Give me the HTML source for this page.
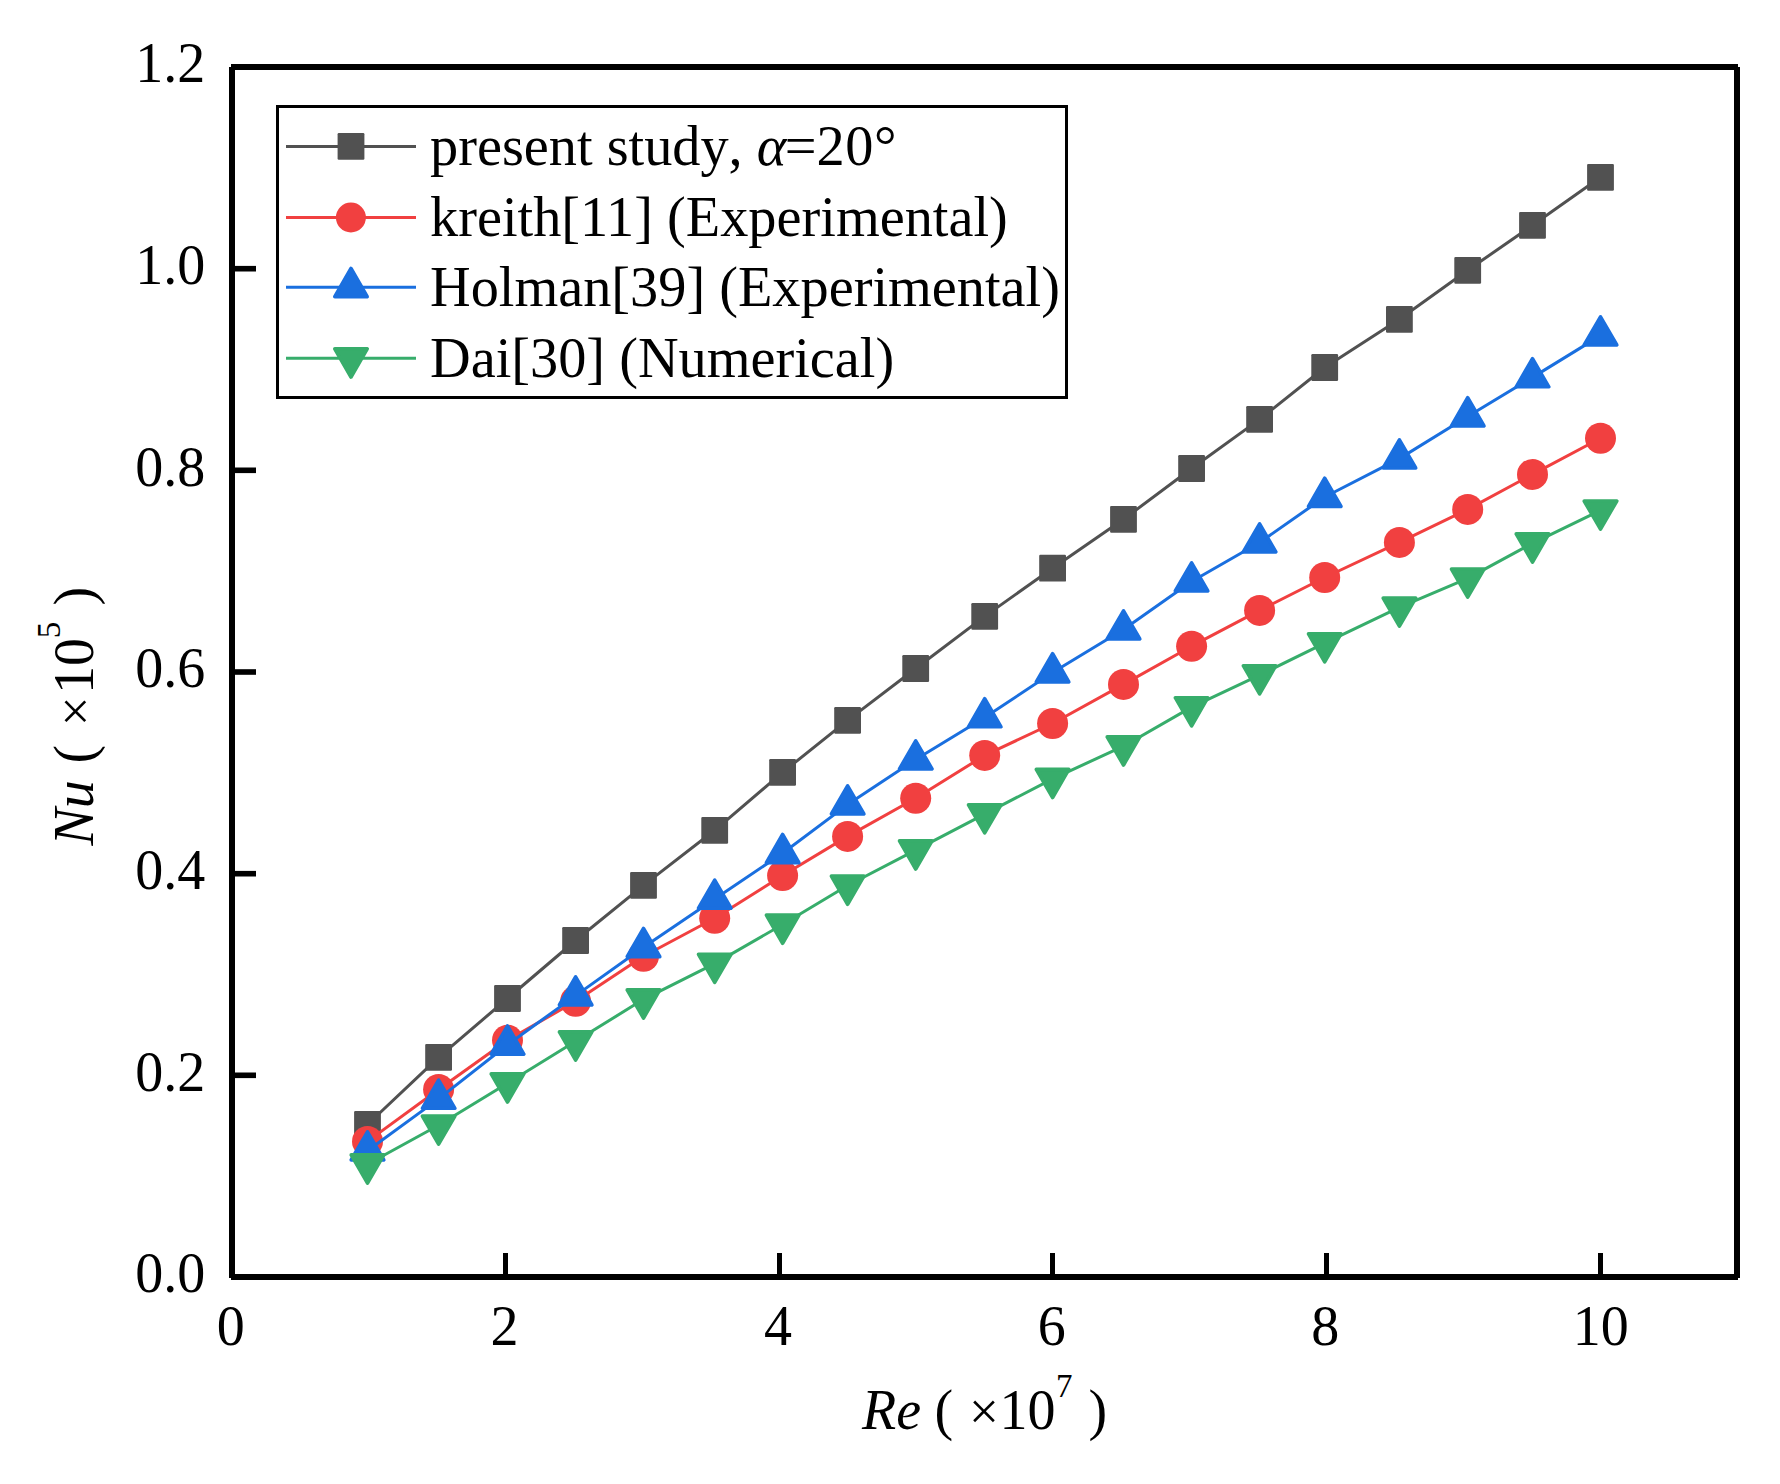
<!DOCTYPE html>
<html lang="en">
<head>
<meta charset="utf-8">
<title>Nu vs Re comparison</title>
<style>
html,body{margin:0;padding:0;background:#fff;}
body{width:1780px;height:1484px;overflow:hidden;}
svg{display:block;}
text{font-family:"Liberation Serif","Times New Roman",serif;font-size:56px;fill:#000;}
.it{font-style:italic;}
.lg{font-size:56.3px;}
</style>
</head>
<body>
<svg width="1780" height="1484" viewBox="0 0 1780 1484">
<rect x="0" y="0" width="1780" height="1484" fill="#fff"/>

<g fill="#000">
<rect x="229" y="67" width="6" height="1211"/>
<rect x="1734" y="67" width="6" height="1211"/>
<rect x="231" y="64" width="1507" height="6"/>
<rect x="231" y="1274" width="1507" height="6"/>
<rect x="503" y="1253" width="5" height="22"/>
<rect x="777" y="1253" width="5" height="22"/>
<rect x="1050" y="1253" width="5" height="22"/>
<rect x="1324" y="1253" width="5" height="22"/>
<rect x="1598" y="1253" width="5" height="22"/>
<rect x="234" y="1072.5" width="22" height="5.6"/>
<rect x="234" y="870.9" width="22" height="5.6"/>
<rect x="234" y="669.2" width="22" height="5.6"/>
<rect x="234" y="467.5" width="22" height="5.6"/>
<rect x="234" y="265.9" width="22" height="5.6"/>
</g>
<g text-anchor="middle">
<text x="230.8" y="1344.5">0</text>
<text x="504.4" y="1344.5">2</text>
<text x="778.1" y="1344.5">4</text>
<text x="1051.7" y="1344.5">6</text>
<text x="1325.3" y="1344.5">8</text>
<text x="1600.7" y="1344.5">10</text>
</g>
<g text-anchor="end">
<text x="205.2" y="1292.2">0.0</text>
<text x="205.2" y="1090.5">0.2</text>
<text x="205.2" y="888.9">0.4</text>
<text x="205.2" y="687.2">0.6</text>
<text x="205.2" y="485.5">0.8</text>
<text x="205.2" y="283.9">1.0</text>
<text x="205.2" y="82.2">1.2</text>
</g>
<g id="xtitle">
<text x="862" y="1429"><tspan class="it">Re</tspan></text>
<text x="934.5" y="1429">(</text>
<text x="983.9" y="1428.5" text-anchor="middle" style="font-size:53px">×</text>
<text x="999.5" y="1429">10</text>
<text x="1056" y="1397" style="font-size:33px">7</text>
<text x="1088.5" y="1429">)</text>
</g>
<g id="ytitle" transform="translate(93,846) rotate(-90)">
<text x="0.5" y="0"><tspan class="it">Nu</tspan></text>
<text x="82.5" y="0">(</text>
<text x="134.7" y="-0.5" text-anchor="middle" style="font-size:53px">×</text>
<text x="152" y="0">10</text>
<text x="207.8" y="-33" style="font-size:33px">5</text>
<text x="240.5" y="0">)</text>
</g>
<g>
<polyline points="367.5,1124.5 438.6,1057.3 507.5,998.5 575.6,940.5 643.5,885.4 714.7,830.3 782.6,772.4 847.6,720.4 915.7,668.5 984.7,616.4 1052.6,568.2 1123.5,519.3 1191.6,468.5 1259.6,419.4 1324.7,367.5 1399.4,319.3 1467.7,270.3 1532.5,225.3 1600.5,177.3" fill="none" stroke="#515151" stroke-width="3.0" stroke-linejoin="round"/>
<rect x="354.1" y="1111.1" width="26.8" height="26.8" rx="1.2" fill="#515151"/><rect x="425.2" y="1043.9" width="26.8" height="26.8" rx="1.2" fill="#515151"/><rect x="494.1" y="985.1" width="26.8" height="26.8" rx="1.2" fill="#515151"/><rect x="562.2" y="927.1" width="26.8" height="26.8" rx="1.2" fill="#515151"/><rect x="630.1" y="872" width="26.8" height="26.8" rx="1.2" fill="#515151"/><rect x="701.3" y="816.9" width="26.8" height="26.8" rx="1.2" fill="#515151"/><rect x="769.2" y="759" width="26.8" height="26.8" rx="1.2" fill="#515151"/><rect x="834.2" y="707" width="26.8" height="26.8" rx="1.2" fill="#515151"/><rect x="902.3" y="655.1" width="26.8" height="26.8" rx="1.2" fill="#515151"/><rect x="971.3" y="603" width="26.8" height="26.8" rx="1.2" fill="#515151"/><rect x="1039.2" y="554.8" width="26.8" height="26.8" rx="1.2" fill="#515151"/><rect x="1110.1" y="505.9" width="26.8" height="26.8" rx="1.2" fill="#515151"/><rect x="1178.2" y="455.1" width="26.8" height="26.8" rx="1.2" fill="#515151"/><rect x="1246.2" y="406" width="26.8" height="26.8" rx="1.2" fill="#515151"/><rect x="1311.3" y="354.1" width="26.8" height="26.8" rx="1.2" fill="#515151"/><rect x="1386" y="305.9" width="26.8" height="26.8" rx="1.2" fill="#515151"/><rect x="1454.3" y="256.9" width="26.8" height="26.8" rx="1.2" fill="#515151"/><rect x="1519.1" y="211.9" width="26.8" height="26.8" rx="1.2" fill="#515151"/><rect x="1587.1" y="163.9" width="26.8" height="26.8" rx="1.2" fill="#515151"/>
</g>
<g>
<polyline points="367.5,1141.4 438.6,1089.5 507.5,1040.3 575.6,1001.2 643.5,956.2 714.7,918.3 782.6,875.6 847.6,836.4 915.7,798.3 984.7,755.4 1052.6,723.5 1123.5,684.4 1191.6,646.2 1259.6,610.4 1324.7,577.5 1399.4,542.4 1467.7,509.4 1532.5,474.4 1600.5,438.3" fill="none" stroke="#F14040" stroke-width="3.0" stroke-linejoin="round"/>
<circle cx="367.5" cy="1141.4" r="15.5" fill="#F14040"/><circle cx="438.6" cy="1089.5" r="15.5" fill="#F14040"/><circle cx="507.5" cy="1040.3" r="15.5" fill="#F14040"/><circle cx="575.6" cy="1001.2" r="15.5" fill="#F14040"/><circle cx="643.5" cy="956.2" r="15.5" fill="#F14040"/><circle cx="714.7" cy="918.3" r="15.5" fill="#F14040"/><circle cx="782.6" cy="875.6" r="15.5" fill="#F14040"/><circle cx="847.6" cy="836.4" r="15.5" fill="#F14040"/><circle cx="915.7" cy="798.3" r="15.5" fill="#F14040"/><circle cx="984.7" cy="755.4" r="15.5" fill="#F14040"/><circle cx="1052.6" cy="723.5" r="15.5" fill="#F14040"/><circle cx="1123.5" cy="684.4" r="15.5" fill="#F14040"/><circle cx="1191.6" cy="646.2" r="15.5" fill="#F14040"/><circle cx="1259.6" cy="610.4" r="15.5" fill="#F14040"/><circle cx="1324.7" cy="577.5" r="15.5" fill="#F14040"/><circle cx="1399.4" cy="542.4" r="15.5" fill="#F14040"/><circle cx="1467.7" cy="509.4" r="15.5" fill="#F14040"/><circle cx="1532.5" cy="474.4" r="15.5" fill="#F14040"/><circle cx="1600.5" cy="438.3" r="15.5" fill="#F14040"/>
</g>
<g>
<polyline points="367.5,1150.7 438.6,1098.9 507.5,1044.8 575.6,995.6 643.5,947.2 714.7,898.9 782.6,853.3 847.6,804.6 915.7,759.5 984.7,717.5 1052.6,672.5 1123.5,629.5 1191.6,581.5 1259.6,542.5 1324.7,497 1399.4,458.6 1467.7,416.5 1532.5,377.4 1600.5,335.6" fill="none" stroke="#1A6FDF" stroke-width="3.0" stroke-linejoin="round"/>
<polygon points="367.5,1131.9 383.8,1160 351.2,1160" fill="#1A6FDF" stroke="#1A6FDF" stroke-width="3.6" stroke-linejoin="round"/><polygon points="438.6,1080.1 454.9,1108.3 422.4,1108.3" fill="#1A6FDF" stroke="#1A6FDF" stroke-width="3.6" stroke-linejoin="round"/><polygon points="507.5,1026 523.8,1054.2 491.2,1054.2" fill="#1A6FDF" stroke="#1A6FDF" stroke-width="3.6" stroke-linejoin="round"/><polygon points="575.6,976.8 591.9,1005 559.4,1005" fill="#1A6FDF" stroke="#1A6FDF" stroke-width="3.6" stroke-linejoin="round"/><polygon points="643.5,928.5 659.8,956.6 627.2,956.6" fill="#1A6FDF" stroke="#1A6FDF" stroke-width="3.6" stroke-linejoin="round"/><polygon points="714.7,880.1 731,908.2 698.5,908.2" fill="#1A6FDF" stroke="#1A6FDF" stroke-width="3.6" stroke-linejoin="round"/><polygon points="782.6,834.5 798.9,862.7 766.4,862.7" fill="#1A6FDF" stroke="#1A6FDF" stroke-width="3.6" stroke-linejoin="round"/><polygon points="847.6,785.9 863.9,814 831.4,814" fill="#1A6FDF" stroke="#1A6FDF" stroke-width="3.6" stroke-linejoin="round"/><polygon points="915.7,740.8 932,768.9 899.5,768.9" fill="#1A6FDF" stroke="#1A6FDF" stroke-width="3.6" stroke-linejoin="round"/><polygon points="984.7,698.7 1001,726.8 968.5,726.8" fill="#1A6FDF" stroke="#1A6FDF" stroke-width="3.6" stroke-linejoin="round"/><polygon points="1052.6,653.7 1068.8,681.9 1036.3,681.9" fill="#1A6FDF" stroke="#1A6FDF" stroke-width="3.6" stroke-linejoin="round"/><polygon points="1123.5,610.8 1139.8,638.9 1107.2,638.9" fill="#1A6FDF" stroke="#1A6FDF" stroke-width="3.6" stroke-linejoin="round"/><polygon points="1191.6,562.8 1207.8,590.9 1175.3,590.9" fill="#1A6FDF" stroke="#1A6FDF" stroke-width="3.6" stroke-linejoin="round"/><polygon points="1259.6,523.8 1275.8,551.9 1243.3,551.9" fill="#1A6FDF" stroke="#1A6FDF" stroke-width="3.6" stroke-linejoin="round"/><polygon points="1324.7,478.2 1341,506.4 1308.5,506.4" fill="#1A6FDF" stroke="#1A6FDF" stroke-width="3.6" stroke-linejoin="round"/><polygon points="1399.4,439.8 1415.7,468 1383.2,468" fill="#1A6FDF" stroke="#1A6FDF" stroke-width="3.6" stroke-linejoin="round"/><polygon points="1467.7,397.7 1484,425.9 1451.5,425.9" fill="#1A6FDF" stroke="#1A6FDF" stroke-width="3.6" stroke-linejoin="round"/><polygon points="1532.5,358.7 1548.8,386.8 1516.2,386.8" fill="#1A6FDF" stroke="#1A6FDF" stroke-width="3.6" stroke-linejoin="round"/><polygon points="1600.5,316.8 1616.8,345 1584.2,345" fill="#1A6FDF" stroke="#1A6FDF" stroke-width="3.6" stroke-linejoin="round"/>
</g>
<g>
<polyline points="367.5,1164.3 438.6,1125.3 507.5,1083.2 575.6,1041.3 643.5,999.3 714.7,963.6 782.6,924.5 847.6,885.5 915.7,850.2 984.7,814.1 1052.6,778.8 1123.5,746.2 1191.6,707.1 1259.6,675.1 1324.7,643.1 1399.4,607.4 1467.7,578.4 1532.5,543.3 1600.5,510.4" fill="none" stroke="#37AD6B" stroke-width="3.0" stroke-linejoin="round"/>
<polygon points="367.5,1183.1 383.8,1154.9 351.2,1154.9" fill="#37AD6B" stroke="#37AD6B" stroke-width="3.6" stroke-linejoin="round"/><polygon points="438.6,1144.1 454.9,1116 422.4,1116" fill="#37AD6B" stroke="#37AD6B" stroke-width="3.6" stroke-linejoin="round"/><polygon points="507.5,1102 523.8,1073.9 491.2,1073.9" fill="#37AD6B" stroke="#37AD6B" stroke-width="3.6" stroke-linejoin="round"/><polygon points="575.6,1060.1 591.9,1031.9 559.4,1031.9" fill="#37AD6B" stroke="#37AD6B" stroke-width="3.6" stroke-linejoin="round"/><polygon points="643.5,1018.1 659.8,989.9 627.2,989.9" fill="#37AD6B" stroke="#37AD6B" stroke-width="3.6" stroke-linejoin="round"/><polygon points="714.7,982.4 731,954.3 698.5,954.3" fill="#37AD6B" stroke="#37AD6B" stroke-width="3.6" stroke-linejoin="round"/><polygon points="782.6,943.3 798.9,915.1 766.4,915.1" fill="#37AD6B" stroke="#37AD6B" stroke-width="3.6" stroke-linejoin="round"/><polygon points="847.6,904.3 863.9,876.1 831.4,876.1" fill="#37AD6B" stroke="#37AD6B" stroke-width="3.6" stroke-linejoin="round"/><polygon points="915.7,869 932,840.8 899.5,840.8" fill="#37AD6B" stroke="#37AD6B" stroke-width="3.6" stroke-linejoin="round"/><polygon points="984.7,832.9 1001,804.8 968.5,804.8" fill="#37AD6B" stroke="#37AD6B" stroke-width="3.6" stroke-linejoin="round"/><polygon points="1052.6,797.5 1068.8,769.4 1036.3,769.4" fill="#37AD6B" stroke="#37AD6B" stroke-width="3.6" stroke-linejoin="round"/><polygon points="1123.5,765 1139.8,736.9 1107.2,736.9" fill="#37AD6B" stroke="#37AD6B" stroke-width="3.6" stroke-linejoin="round"/><polygon points="1191.6,725.9 1207.8,697.7 1175.3,697.7" fill="#37AD6B" stroke="#37AD6B" stroke-width="3.6" stroke-linejoin="round"/><polygon points="1259.6,693.9 1275.8,665.7 1243.3,665.7" fill="#37AD6B" stroke="#37AD6B" stroke-width="3.6" stroke-linejoin="round"/><polygon points="1324.7,661.9 1341,633.8 1308.5,633.8" fill="#37AD6B" stroke="#37AD6B" stroke-width="3.6" stroke-linejoin="round"/><polygon points="1399.4,626.1 1415.7,598 1383.2,598" fill="#37AD6B" stroke="#37AD6B" stroke-width="3.6" stroke-linejoin="round"/><polygon points="1467.7,597.1 1484,569 1451.5,569" fill="#37AD6B" stroke="#37AD6B" stroke-width="3.6" stroke-linejoin="round"/><polygon points="1532.5,562.1 1548.8,533.9 1516.2,533.9" fill="#37AD6B" stroke="#37AD6B" stroke-width="3.6" stroke-linejoin="round"/><polygon points="1600.5,529.1 1616.8,501 1584.2,501" fill="#37AD6B" stroke="#37AD6B" stroke-width="3.6" stroke-linejoin="round"/>
</g>
<rect x="277.5" y="106.5" width="789" height="291" fill="#fff" stroke="#000" stroke-width="3"/>
<line x1="286" y1="146.4" x2="416" y2="146.4" stroke="#515151" stroke-width="3.0"/>
<rect x="337.6" y="133" width="26.8" height="26.8" rx="1.2" fill="#515151"/>
<line x1="286" y1="217.5" x2="416" y2="217.5" stroke="#F14040" stroke-width="3.0"/>
<circle cx="350.9" cy="217.5" r="15" fill="#F14040"/>
<line x1="286" y1="287.3" x2="416" y2="287.3" stroke="#1A6FDF" stroke-width="3.0"/>
<polygon points="351,268.5 367.2,296.7 334.8,296.7" fill="#1A6FDF" stroke="#1A6FDF" stroke-width="3.6" stroke-linejoin="round"/>
<line x1="286" y1="358.2" x2="416" y2="358.2" stroke="#37AD6B" stroke-width="3.0"/>
<polygon points="351,377 367.2,348.8 334.8,348.8" fill="#37AD6B" stroke="#37AD6B" stroke-width="3.6" stroke-linejoin="round"/>
<text class="lg" x="430" y="165">present study<tspan dx="3.5">,</tspan> <tspan class="it">α</tspan><tspan dx="-1.5">=2</tspan><tspan dx="0.7">0</tspan><tspan dx="0.5">°</tspan></text>
<text class="lg" x="430" y="236">kreith[11] (Experimental)</text>
<text class="lg" x="430" y="306">Holman[39] (Experimental)</text>
<text class="lg" x="430" y="377">Dai[30] (Numerical)</text>
</svg>
</body>
</html>
